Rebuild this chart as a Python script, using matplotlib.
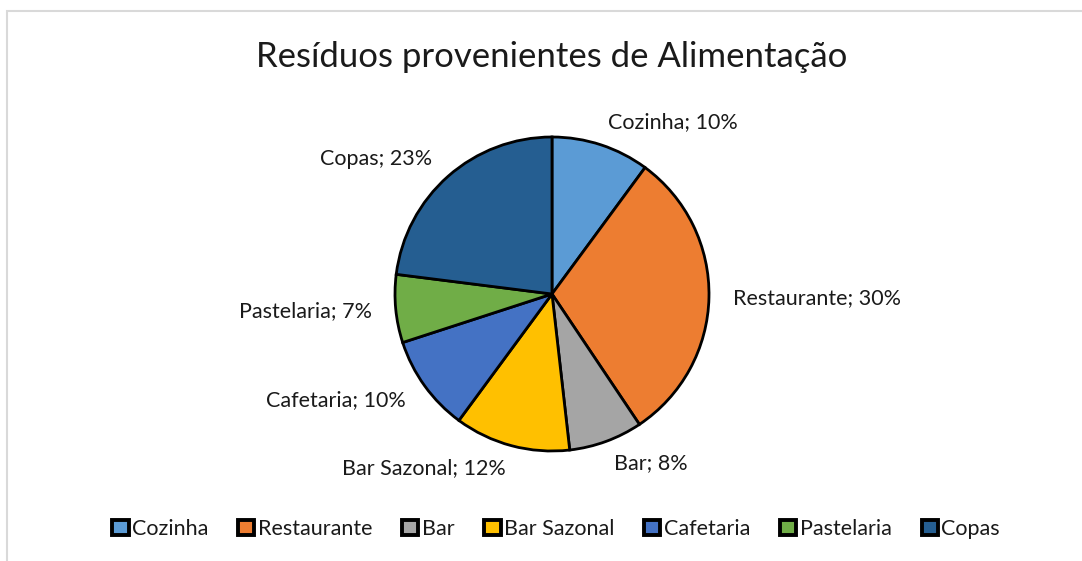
import matplotlib.pyplot as plt
from matplotlib.patches import Rectangle

plt.rcParams["font.family"] = ["Lato", "DejaVu Sans"]

categories = ["Cozinha", "Restaurante", "Bar", "Bar Sazonal", "Cafetaria", "Pastelaria", "Copas"]
values = [10.1, 30.5, 7.6, 11.9, 9.9, 7.0, 23.0]
colors = ["#5B9BD5", "#ED7D31", "#A5A5A5", "#FFC000", "#4472C4", "#70AD47", "#255E91"]

total = sum(values)
labels = [f"{c}; {v / total * 100:.0f}%" for c, v in zip(categories, values)]

W, H = 1082, 561
fig = plt.figure(figsize=(W / 100, H / 100), dpi=100)

# light grey chart border
fig.patches.append(Rectangle((7 / W, -0.1), 1.2, (H - 11) / H + 0.1, transform=fig.transFigure,
                             fill=False, edgecolor="#D9D9D9", linewidth=1.5))

cx, cy, r = 552, 294, 157
ax = fig.add_axes([(cx - r) / W, (H - cy - r) / H, 2 * r / W, 2 * r / H])
wedges, texts = ax.pie(values, labels=labels, colors=colors, startangle=90, counterclock=False,
                       labeldistance=1.15,
                       wedgeprops=dict(edgecolor="black", linewidth=2.0),
                       textprops=dict(fontsize=15.5, color="#1a1a1a"))
ax.set_xlim(-1, 1)
ax.set_ylim(-1, 1)

fig.text(552 / W, 1 - 57 / H, "Resíduos provenientes de Alimentação", ha="center", va="center",
         fontsize=25, color="#1a1a1a")

leg = fig.legend(wedges, categories, loc="center", bbox_to_anchor=(556 / W, 1 - 529 / H), ncol=7,
                 frameon=False, fontsize=15.5, handlelength=0.75, handleheight=0.75,
                 handletextpad=0.15, columnspacing=1.4)
for h in leg.legend_handles:
    h.set_linewidth(2.8)
    h.set_edgecolor("black")
for t in leg.get_texts():
    t.set_color("#1a1a1a")

fig.savefig("out.png", dpi=100)
